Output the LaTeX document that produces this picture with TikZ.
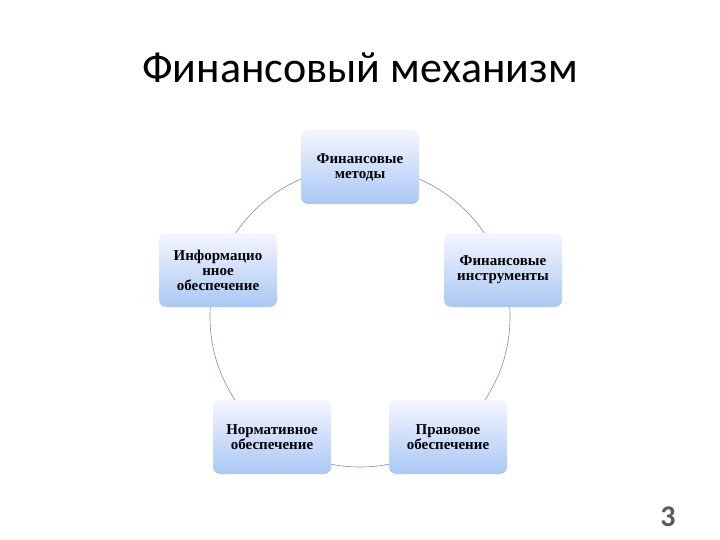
\documentclass[tikz,border=0pt]{standalone}
\usepackage{fontspec}
\setmainfont{Liberation Serif}
\newfontfamily\titlefont{Carlito}
\begin{document}
\begin{tikzpicture}[x=1pt,y=-1pt,
  box/.style={rounded corners=7pt,minimum width=116pt,minimum height=74pt,
    top color=blue!4!white,bottom color={rgb,255:red,170;green,200;blue,244},
    draw=none,align=center,font=\fontsize{15}{15}\selectfont\bfseries,inner sep=2pt,
    text width=114pt},
  ring/.style={draw={rgb,255:red,120;green,145;blue,185},line width=0.6pt}]
\useasboundingbox (0,0) rectangle (720,540);
\node[font=\titlefont\fontsize{44}{48}\selectfont] (title) at (360,68) {Финансовый механизм};
\draw[ring] (360,317) circle (150);
\node[box] (m) at (360,167) {Финансовые\\методы};
\node[box] (i) at (503,270) {Финансовые\\инструменты};
\node[box] (p) at (448,437) {Правовое\\обеспечение};
\node[box] (n) at (272,437) {Нормативное\\обеспечение};
\node[box] (inf) at (218,270) {Информацио\\нное\\обеспечение};
\node[font=\titlefont\bfseries\fontsize{30}{32}\selectfont,text=black!65] (pg) at (668,517) {3};
\end{tikzpicture}
\end{document}
